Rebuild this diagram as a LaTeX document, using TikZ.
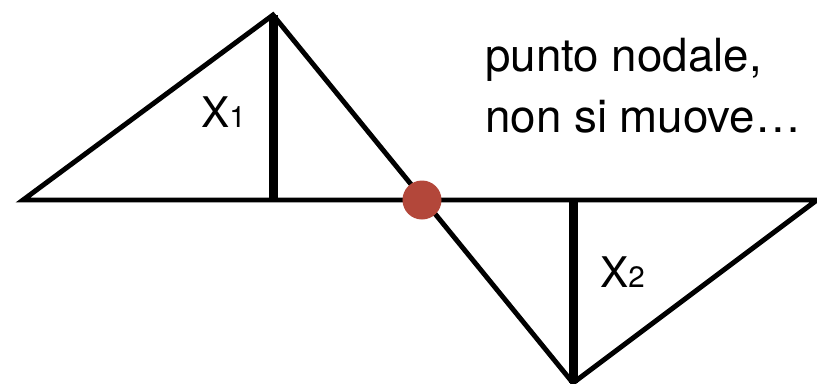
\documentclass[tikz,border=0pt]{standalone}
\usepackage{fontspec}
\setmainfont{TeX Gyre Heros}
\usepackage{xcolor}
\usepackage{tikz}
\usetikzlibrary{positioning}
\definecolor{nodered}{HTML}{B3473A}
\definecolor{inkblack}{HTML}{000000}

\begin{document}
\begin{tikzpicture}[x=0.025cm, y=-0.025cm,
    every node/.style={font=\fontsize{30pt}{43pt}\selectfont, text=inkblack},
    wave/.style={draw=inkblack, line width=3.5pt, line join=miter},
    amp/.style={draw=inkblack, line width=6.4pt},
    dot/.style={circle, fill=nodered, inner sep=0pt, minimum size=0.975cm},
    lbl/.style={anchor=base west, inner sep=0pt}]
  \useasboundingbox (0,0) rectangle (817,383);
  % the string, one lobe up and one down
  \coordinate (lefttip) at (23,200);
  \coordinate (apex) at (273,15);
  \coordinate (foot1) at (273,200);
  \coordinate (trough) at (573,383);
  \coordinate (foot2) at (573,200);
  \coordinate (righttip) at (817,200);
  \draw[wave] (lefttip) -- (apex) -- (trough) -- (righttip) -- cycle;
  % the two displacements
  \draw[amp] (apex) -- (foot1);
  \draw[amp] (foot2) -- (trough);
  \node[lbl] (xone) at (201,127) {X\fontsize{21pt}{22pt}\selectfont 1};
  \node[lbl] (xtwo) at (600,287) {X\fontsize{21pt}{22pt}\selectfont 2};
  % the node in the middle
  \node[dot] (nodal) at (422,200) {};
  \node[lbl, align=left, font=\fontsize{32.5pt}{42.7pt}\selectfont] (caption)
       at (485,132) {punto nodale,\\non si muove\ldots};
\end{tikzpicture}
\end{document}
